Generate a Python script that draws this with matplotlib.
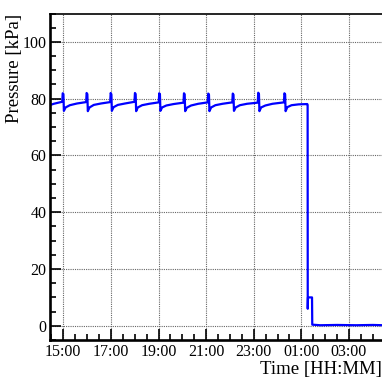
import matplotlib
matplotlib.use("Agg")
import matplotlib.pyplot as plt
from matplotlib.ticker import MultipleLocator, FuncFormatter

# time in hours since midnight of the first day (values > 24 are next day)
hours = [
    14.42, 14.60, 14.80, 14.955,
    14.975, 15.005, 15.025, 15.095, 15.275, 15.575, 15.96,
    15.98, 16.01, 16.03, 16.10, 16.28, 16.58, 16.97,
    16.99, 17.02, 17.04, 17.11, 17.29, 17.59, 17.99,
    18.01, 18.04, 18.06, 18.13, 18.31, 18.61, 19.01,
    19.03, 19.06, 19.08, 19.15, 19.33, 19.63, 20.05,
    20.07, 20.10, 20.12, 20.19, 20.37, 20.67, 21.07,
    21.09, 21.12, 21.14, 21.21, 21.39, 21.69, 22.10,
    22.12, 22.15, 22.17, 22.24, 22.42, 22.72, 23.17,
    23.19, 23.22, 23.24, 23.31, 23.49, 23.79, 24.27,
    24.29, 24.32, 24.34, 24.41, 24.59, 24.89, 25.25,
    25.265, 25.27, 25.28, 25.45, 25.46, 25.80, 26.50, 27.30, 28.00, 28.45,
]
pressure = [
    77.7, 78.2, 78.6, 78.9,
    81.9, 81.6, 75.7, 76.9, 77.7, 78.3, 78.8,
    82.0, 81.6, 75.6, 76.9, 77.8, 78.3, 78.8,
    82.0, 81.5, 75.7, 77.0, 77.8, 78.3, 78.9,
    82.0, 81.6, 75.6, 76.9, 77.7, 78.2, 78.7,
    81.9, 81.5, 75.7, 76.9, 77.6, 78.1, 78.6,
    81.9, 81.5, 75.6, 76.8, 77.6, 78.2, 78.7,
    81.8, 81.4, 75.6, 76.9, 77.7, 78.2, 78.7,
    81.8, 81.4, 75.7, 76.9, 77.7, 78.2, 78.6,
    82.1, 81.6, 75.6, 76.9, 77.6, 78.2, 78.7,
    81.9, 81.5, 75.6, 77.0, 77.7, 78.0, 78.1,
    77.8, 6.0, 10.0, 10.0, 0.4, 0.2, 0.3, 0.2, 0.3, 0.2,
]

def hhmm(v, pos):
    h = int(round(v)) % 24
    return f"{h:02d}:00"

plt.rcParams["font.family"] = ["Liberation Serif", "DejaVu Serif"]

fig = plt.figure(figsize=(3.82, 3.80), dpi=100)
ax = fig.add_axes([49.5 / 382, 1 - 340 / 380, 1 - 49.5 / 382, (340 - 13.5) / 380])

ax.plot(hours, pressure, color="#0000ff", linewidth=1.6)

ax.set_xlim(14.42, 28.39)
ax.set_ylim(-5, 110)

# labels on odd hours: 15:00, 17:00, ...
ax.xaxis.set_major_locator(MultipleLocator(2, offset=1))
ax.xaxis.set_minor_locator(MultipleLocator(0.5))
ax.xaxis.set_major_formatter(FuncFormatter(hhmm))
ax.yaxis.set_major_locator(MultipleLocator(20))
ax.yaxis.set_minor_locator(MultipleLocator(5))

ax.tick_params(which="both", direction="in", colors="black", labelsize=11.5,
               top=False, right=False)
ax.tick_params(which="major", length=8, width=1.2)
ax.tick_params(which="minor", length=4, width=1.2)
ax.tick_params(axis="y", pad=2)
ax.tick_params(axis="x", pad=3)

ax.grid(True, which="major", linestyle=(0, (1, 1)), color="#666666", linewidth=0.8)

for side in ["left", "bottom"]:
    ax.spines[side].set_linewidth(1.9)
ax.spines["top"].set_linewidth(1.2)
ax.spines["right"].set_visible(False)

ax.set_ylabel("Pressure [kPa]", fontsize=13.5, loc="top")
ax.yaxis.set_label_coords(-0.08, 1.0)
ax.set_xlabel("Time [HH:MM]", fontsize=13.5, loc="right")
ax.xaxis.set_label_coords(1.0, -0.065)

plt.savefig("out.png", dpi=100)
